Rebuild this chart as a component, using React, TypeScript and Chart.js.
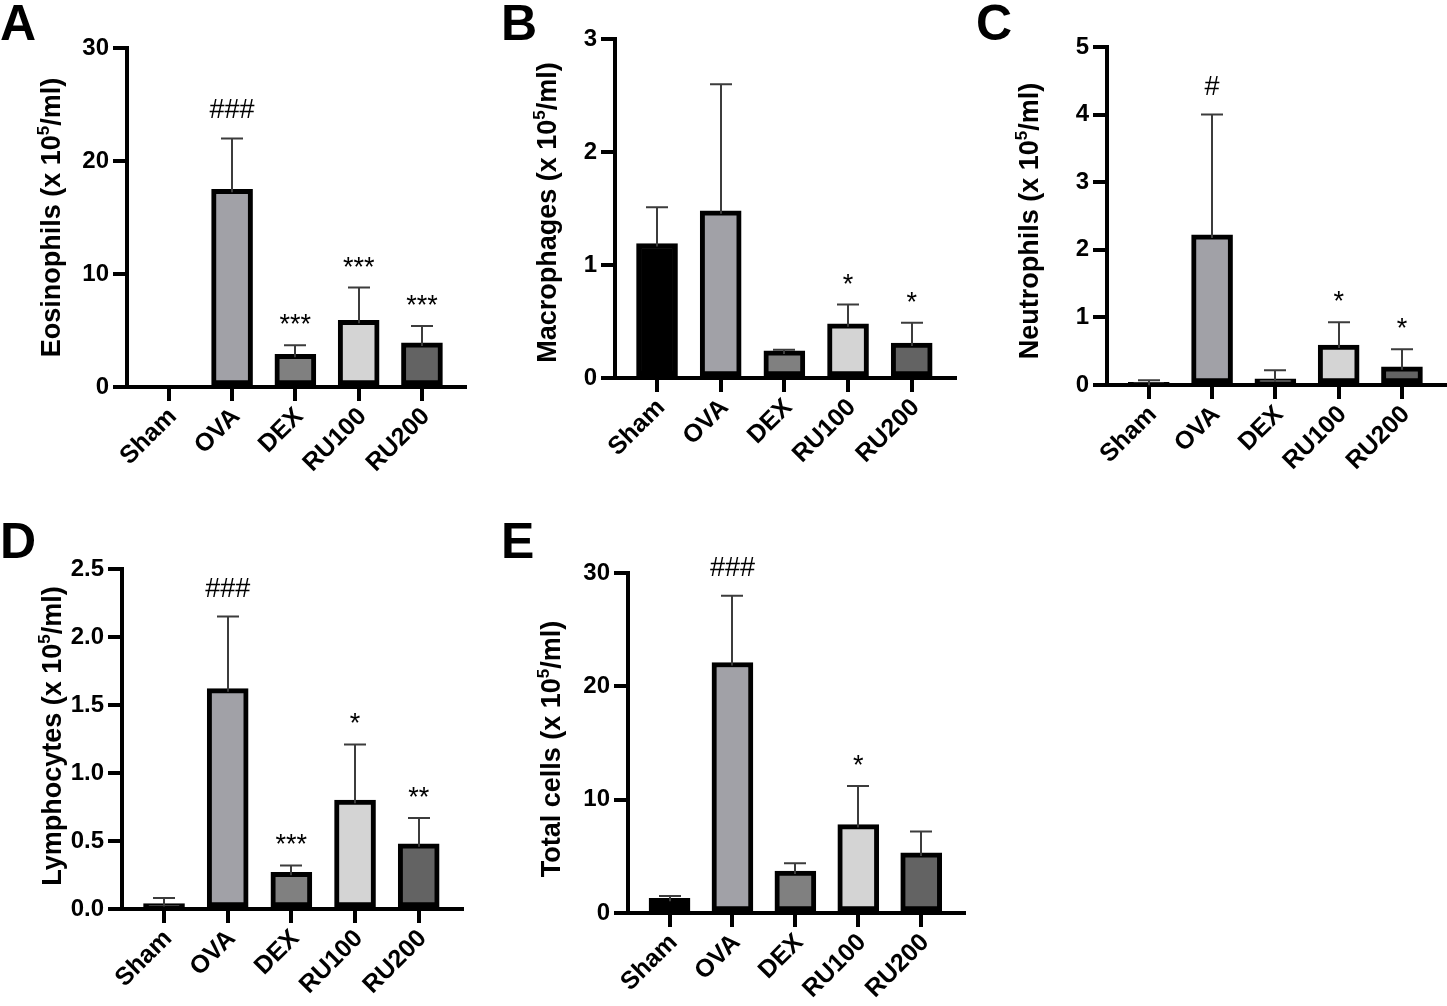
import React, { useEffect, useRef } from 'react';
import { Chart, registerables } from 'chart.js';

Chart.register(...registerables);

const FONT = '"Liberation Sans", Arial, Helvetica, sans-serif';

const categories = ['Sham', 'OVA', 'DEX', 'RU100', 'RU200'];
const barColors = ['#000000', '#a1a1a7', '#808080', '#d4d4d4', '#636363'];

const eosinophilMeans = [0, 17.5, 2.9, 5.9, 3.9];
const eosinophilSem = [0, 4.5, 0.8, 2.9, 1.5];
const eosinophilMarks = ['', '###', '***', '***', '***'];
const eosinophilTicks = [0, 10, 20, 30];

const macrophageMeans = [1.19, 1.48, 0.24, 0.48, 0.31];
const macrophageSem = [0.32, 1.12, 0.01, 0.17, 0.18];
const macrophageMarks = ['', '', '', '*', '*'];
const macrophageTicks = [0, 1, 2, 3];

const neutrophilMeans = [0.04, 2.22, 0.09, 0.59, 0.27];
const neutrophilSem = [0.03, 1.78, 0.13, 0.34, 0.26];
const neutrophilMarks = ['', '#', '', '*', '*'];
const neutrophilTicks = [0, 1, 2, 3, 4, 5];

const lymphocyteMeans = [0.04, 1.62, 0.27, 0.8, 0.48];
const lymphocyteSem = [0.04, 0.53, 0.05, 0.41, 0.19];
const lymphocyteMarks = ['', '###', '***', '*', '**'];
const lymphocyteTicks = [0, 0.5, 1.0, 1.5, 2.0, 2.5];

const totalMeans = [1.3, 22.1, 3.7, 7.8, 5.3];
const totalSem = [0.2, 5.9, 0.7, 3.4, 1.9];
const totalMarks = ['', '###', '', '*', ''];
const totalTicks = [0, 10, 20, 30];

type Rect = { x: number; y: number; w: number; h: number };
type Area = { l: number; t: number; r: number; b: number };
type Panel = {
  letter: string;
  letterX: number;
  letterY: number;
  title: string;
  titleX: number;
  titleDy: number;
  means: number[];
  sem: number[];
  marks: string[];
  yTicks: number[];
  decimals: number;
  canvas: Rect;
  area: Area;
};

const panels: Panel[] = [
  {
    letter: 'A', letterX: 0, letterY: 40,
    title: 'Eosinophils (x 10', titleX: 52, titleDy: 0,
    means: eosinophilMeans, sem: eosinophilSem, marks: eosinophilMarks,
    yTicks: eosinophilTicks, decimals: 0,
    canvas: { x: 0, y: 0, w: 480, h: 505 },
    area: { l: 127, t: 48, r: 465, b: 387 },
  },
  {
    letter: 'B', letterX: 501, letterY: 40,
    title: 'Macrophages (x 10', titleX: 548, titleDy: 4,
    means: macrophageMeans, sem: macrophageSem, marks: macrophageMarks,
    yTicks: macrophageTicks, decimals: 0,
    canvas: { x: 480, y: 0, w: 480, h: 505 },
    area: { l: 615, t: 39, r: 955, b: 378 },
  },
  {
    letter: 'C', letterX: 976, letterY: 40,
    title: 'Neutrophils (x 10', titleX: 1030, titleDy: 5,
    means: neutrophilMeans, sem: neutrophilSem, marks: neutrophilMarks,
    yTicks: neutrophilTicks, decimals: 0,
    canvas: { x: 960, y: 0, w: 487, h: 505 },
    area: { l: 1107, t: 47, r: 1445, b: 385 },
  },
  {
    letter: 'D', letterX: 0, letterY: 558,
    title: 'Lymphocytes (x 10', titleX: 53, titleDy: -3,
    means: lymphocyteMeans, sem: lymphocyteSem, marks: lymphocyteMarks,
    yTicks: lymphocyteTicks, decimals: 1,
    canvas: { x: 0, y: 508, w: 480, h: 498 },
    area: { l: 122, t: 569, r: 462, b: 909 },
  },
  {
    letter: 'E', letterX: 501, letterY: 558,
    title: 'Total cells (x 10', titleX: 552, titleDy: 6,
    means: totalMeans, sem: totalSem, marks: totalMarks,
    yTicks: totalTicks, decimals: 0,
    canvas: { x: 480, y: 508, w: 492, h: 498 },
    area: { l: 628, t: 573, r: 964, b: 913 },
  },
];

function PanelChart({ p }: { p: Panel }) {
  const ref = useRef<HTMLCanvasElement | null>(null);

  useEffect(() => {
    const canvas = ref.current;
    if (!canvas) return;

    const overlay = {
      id: 'overlay' + p.letter,
      afterDatasetsDraw(chart: any) {
        const ctx = chart.ctx;
        const xs = chart.scales.x;
        const ys = chart.scales.y;
        ctx.save();
        ctx.strokeStyle = '#3c3c3c';
        ctx.lineWidth = 2;
        p.means.forEach((m, i) => {
          const s = p.sem[i];
          if (!s) return;
          const px = Math.round(xs.getPixelForValue(i));
          const y0 = ys.getPixelForValue(m) + 3;
          const y1 = ys.getPixelForValue(m + s);
          ctx.beginPath();
          ctx.moveTo(px, y0);
          ctx.lineTo(px, y1);
          ctx.moveTo(px - 11, y1);
          ctx.lineTo(px + 11, y1);
          ctx.stroke();
        });
        ctx.fillStyle = '#000';
        ctx.font = `27px ${FONT}`;
        ctx.textAlign = 'center';
        ctx.textBaseline = 'alphabetic';
        p.marks.forEach((mk, i) => {
          if (!mk) return;
          const top = ys.getPixelForValue(p.means[i] + p.sem[i]);
          ctx.fillText(mk, xs.getPixelForValue(i), top - (mk.includes('#') ? 20 : 12));
        });
        ctx.restore();
      },
      afterDraw(chart: any) {
        const ctx = chart.ctx;
        const area = chart.chartArea;
        ctx.save();
        // panel letter
        ctx.fillStyle = '#000';
        ctx.font = `bold 50px ${FONT}`;
        ctx.textAlign = 'left';
        ctx.textBaseline = 'alphabetic';
        ctx.fillText(p.letter, p.letterX - p.canvas.x, p.letterY - p.canvas.y);
        // y-axis title with superscript
        ctx.translate(p.titleX - p.canvas.x, (area.top + area.bottom) / 2 + p.titleDy);
        ctx.rotate(-Math.PI / 2);
        const mainFont = `bold 27px ${FONT}`;
        const supFont = `bold 17px ${FONT}`;
        ctx.font = mainFont;
        const w1 = ctx.measureText(p.title).width;
        const w3 = ctx.measureText('/ml)').width;
        ctx.font = supFont;
        const w2 = ctx.measureText('5').width;
        let x0 = -(w1 + w2 + w3) / 2;
        const base = 8;
        ctx.font = mainFont;
        ctx.fillText(p.title, x0, base);
        x0 += w1;
        ctx.font = supFont;
        ctx.fillText('5', x0, base - 11);
        x0 += w2;
        ctx.font = mainFont;
        ctx.fillText('/ml)', x0, base);
        ctx.restore();
      },
    };

    const yAxisWidth = p.area.l - p.canvas.x;
    const xAxisHeight = p.canvas.y + p.canvas.h - p.area.b;

    const chart = new Chart(canvas, {
      type: 'bar',
      data: {
        datasets: [
          {
            data: p.means.map((v, i) => ({ x: i, y: v })),
            backgroundColor: barColors,
            borderColor: '#000',
            borderWidth: 5,
            borderSkipped: false,
            barThickness: 41,
          } as any,
        ],
      },
      options: {
        responsive: false,
        animation: false,
        events: [],
        layout: {
          padding: {
            left: 0,
            top: p.area.t - p.canvas.y,
            right: p.canvas.x + p.canvas.w - p.area.r,
            bottom: 0,
          },
        },
        plugins: {
          legend: { display: false },
          tooltip: { enabled: false },
          title: { display: false },
        },
        scales: {
          x: {
            type: 'linear',
            min: -0.66,
            max: 4.68,
            offset: false,
            afterBuildTicks: (axis: any) => {
              axis.ticks = categories.map((_, i) => ({ value: i }));
            },
            afterFit: (scale: any) => {
              scale.height = xAxisHeight;
            },
            border: { display: true, color: '#000', width: 4 },
            grid: {
              display: true,
              offset: false,
              drawOnChartArea: false,
              drawTicks: true,
              tickLength: 14,
              color: '#000',
              lineWidth: 4,
            },
            ticks: {
              autoSkip: false,
              minRotation: 45,
              maxRotation: 45,
              padding: 1,
              labelOffset: 4,
              color: '#000',
              font: { family: FONT, size: 25, weight: 'bold' },
              callback: (_v: any, index: number) => categories[index],
            },
          },
          y: {
            type: 'linear',
            min: 0,
            max: p.yTicks[p.yTicks.length - 1],
            afterBuildTicks: (axis: any) => {
              axis.ticks = p.yTicks.map((v) => ({ value: v }));
            },
            afterFit: (scale: any) => {
              scale.width = yAxisWidth;
            },
            border: { display: true, color: '#000', width: 4 },
            grid: {
              display: true,
              drawOnChartArea: false,
              drawTicks: true,
              tickLength: 14,
              color: '#000',
              lineWidth: 4,
            },
            ticks: {
              padding: 4,
              color: '#000',
              font: { family: FONT, size: 24, weight: 'bold' },
              callback: (v: any) => Number(v).toFixed(p.decimals),
            },
          },
        },
      } as any,
      plugins: [overlay],
    });

    return () => {
      chart.destroy();
    };
  }, [p]);

  return (
    <canvas
      ref={ref}
      width={p.canvas.w}
      height={p.canvas.h}
      style={{
        position: 'absolute',
        left: p.canvas.x,
        top: p.canvas.y,
        width: p.canvas.w,
        height: p.canvas.h,
      }}
    />
  );
}

export default function App() {
  return (
    <div
      style={{
        position: 'fixed',
        left: 0,
        top: 0,
        width: 1447,
        height: 1006,
        background: '#fff',
        overflow: 'hidden',
      }}
    >
      {panels.map((p) => (
        <PanelChart key={p.letter} p={p} />
      ))}
    </div>
  );
}
